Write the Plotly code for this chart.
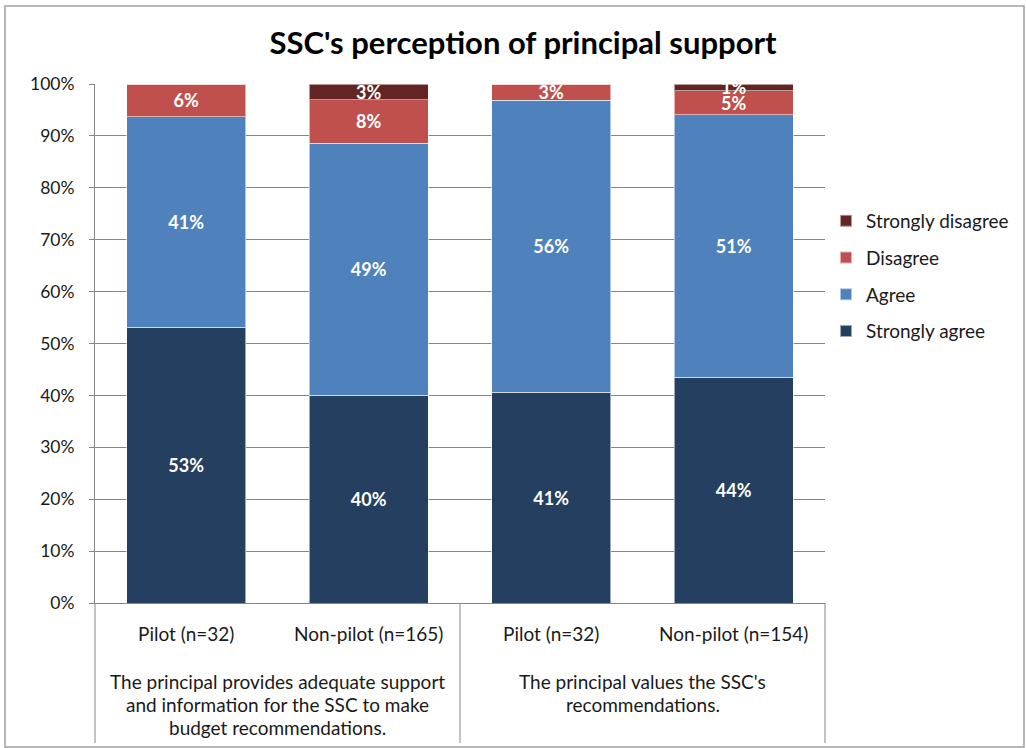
import plotly.graph_objects as go

# ---- data ----
groups = [
    ["The principal provides adequate support", "and information for the SSC to make", "budget recommendations."],
    ["The principal values the SSC's", "recommendations."],
]
subcats = ["Pilot (n=32)", "Non-pilot (n=165)", "Pilot (n=32)", "Non-pilot (n=154)"]

strongly_agree = [53.1, 40.0, 40.6, 43.5]
agree = [40.6, 48.6, 56.3, 50.6]
disagree = [6.3, 8.4, 3.1, 4.6]
strongly_disagree = [0.0, 3.0, 0.0, 1.3]

series = [
    ("Strongly agree", strongly_agree, "#243F60"),
    ("Agree", agree, "#4F81BD"),
    ("Disagree", disagree, "#C0504D"),
    ("Strongly disagree", strongly_disagree, "#632523"),
]

FONT = "Lato"
TXT = "#1a1a1a"
xpos = list(range(len(subcats)))


def pct_label(v):
    return f"{int(v + 0.5)}%" if v > 0 else ""


fig = go.Figure()
for i, (name, vals, color) in enumerate(series):
    fig.add_trace(go.Bar(
        x=xpos, y=vals, name=name, legendgroup=name,
        legendrank=len(series) - i,
        marker=dict(color=color, line=dict(color="rgba(255,255,255,0.55)", width=1)),
        width=0.65,
        text=[pct_label(v) for v in vals],
        textposition="inside", insidetextanchor="middle",
        textfont=dict(color="white", size=18, family=FONT),
        texttemplate="<b>%{text}</b>",
        hoverinfo="name+y",
    ))

L, R, T, B = 95, 201, 84, 145
W, H = 1026, 748
pw, ph = W - L - R, H - T - B


def px_x(px):
    return (px - L) / pw


def px_y(py):
    return (H - B - py) / ph


shapes = []
# dividers below the category axis
for xp in [0, 0.5, 1]:
    shapes.append(dict(type="line", xref="paper", yref="paper", x0=xp, x1=xp,
                       y0=0, y1=px_y(743), line=dict(color="#868686", width=1)))
# outer chart border
shapes.append(dict(type="rect", xref="paper", yref="paper",
                   x0=px_x(5), x1=px_x(1024), y0=px_y(747), y1=px_y(6),
                   line=dict(color="#A0A0A0", width=1.5), layer="below"))

annotations = []
ng = len(groups)
for gi, lines in enumerate(groups):
    for li, line in enumerate(lines):
        annotations.append(dict(
            text=line, xref="paper", yref="paper",
            x=(gi + 0.5) / ng, y=px_y(681 + 23 * li), yanchor="middle", xanchor="center",
            showarrow=False, align="center",
            font=dict(size=19, family=FONT, color=TXT),
        ))

fig.update_layout(
    barmode="stack",
    width=W, height=H,
    margin=dict(l=L, r=R, t=T, b=B, pad=0),
    paper_bgcolor="white", plot_bgcolor="white",
    title=dict(text="<b>SSC's perception of principal support</b>",
               x=523 / W, xanchor="center", y=1 - 43 / H, yanchor="middle",
               font=dict(size=31, family=FONT, color="black")),
    font=dict(family=FONT, size=17, color=TXT),
    legend=dict(x=px_x(826), y=px_y(276), xanchor="left", yanchor="middle",
                traceorder="grouped", font=dict(size=19, family=FONT, color=TXT),
                itemsizing="constant", tracegroupgap=9, itemwidth=30),
    uniformtext=dict(minsize=18, mode="show"),
    shapes=shapes, annotations=annotations,
    bargap=0.35,
)
fig.update_xaxes(
    tickvals=xpos, ticktext=subcats, range=[-0.5, len(subcats) - 0.5],
    showline=True, linecolor="#868686", linewidth=1, ticks="",
    tickfont=dict(size=19, family=FONT, color=TXT), ticklabelstandoff=14,
    showgrid=False, zeroline=False,
)
fig.update_yaxes(
    range=[0, 100], dtick=10, ticksuffix="%",
    showgrid=True, gridcolor="#868686", gridwidth=1,
    showline=True, linecolor="#868686", linewidth=1,
    ticks="outside", ticklen=5, tickcolor="#868686",
    tickfont=dict(size=17.5, family=FONT, color=TXT), ticklabelstandoff=11,
    zeroline=False,
)

fig.write_html("out.html", config={"displayModeBar": False},
               post_script="document.body.style.margin='0';")
